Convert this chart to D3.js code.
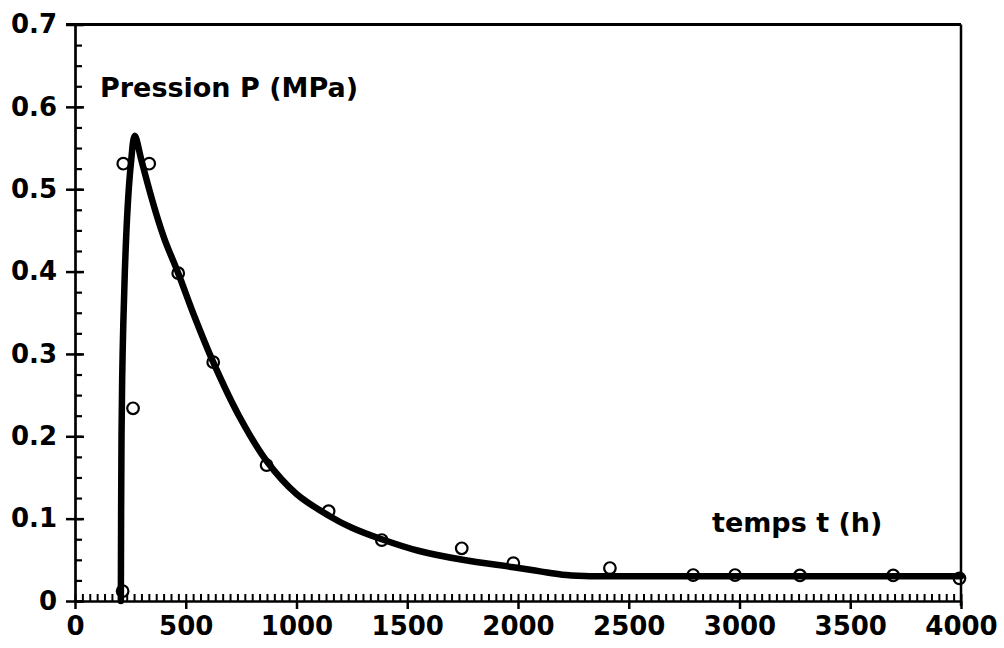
<!DOCTYPE html>
<html>
<head>
<meta charset="utf-8">
<script src="https://cdn.jsdelivr.net/npm/d3@7"></script>
<style>
  body { margin: 0; background: #fff; }
  svg { display: block; }
</style>
</head>
<body>
<svg id="chart" width="1004" height="648"></svg>
<script>
// Pression vs temps : fitted curve + measured points
const curveTime = [207, 210, 215, 225, 238, 252, 270, 300, 340, 376, 406, 466, 540, 624, 740, 865, 1000, 1150, 1250, 1385, 1550, 1750, 1980, 2100, 2200, 2300, 2500, 3000, 3500, 4000];
const curvePressure = [0, 0.2, 0.3, 0.4, 0.48, 0.53, 0.565, 0.535, 0.495, 0.462, 0.438, 0.398, 0.345, 0.29, 0.225, 0.17, 0.13, 0.103, 0.089, 0.075, 0.061, 0.05, 0.041, 0.036, 0.032, 0.0305, 0.03, 0.03, 0.03, 0.03];

const pointTime = [215, 218, 262, 335, 466, 624, 865, 1145, 1385, 1746, 1979, 2415, 2791, 2980, 3273, 3694, 3993];
const pointPressure = [0.012, 0.531, 0.234, 0.531, 0.398, 0.29, 0.165, 0.109, 0.074, 0.064, 0.046, 0.040, 0.0315, 0.0315, 0.031, 0.031, 0.0275];

const xTickValues = [0, 500, 1000, 1500, 2000, 2500, 3000, 3500, 4000];
const yTickValues = [0, 0.1, 0.2, 0.3, 0.4, 0.5, 0.6, 0.7];
const yTickLabels = ["0", "0.1", "0.2", "0.3", "0.4", "0.5", "0.6", "0.7"];

const xLabel = "temps t (h)";
const yLabel = "Pression P (MPa)";

(function () {
  const svg = d3.select("#chart");
  const mLeft = 75, mRight = 961, mTop = 24.5, mBottom = 601;

  const x = d3.scaleLinear().domain([0, 4000]).range([mLeft, mRight]);
  const y = d3.scaleLinear().domain([0, 0.7]).range([mBottom, mTop]);

  const font = "'DejaVu Sans', sans-serif";

  // frame: top and right borders
  svg.append("line")
    .attr("x1", 66).attr("x2", mRight).attr("y1", mTop).attr("y2", mTop)
    .attr("stroke", "#000").attr("stroke-width", 3);
  svg.append("line")
    .attr("x1", mRight).attr("x2", mRight).attr("y1", mTop).attr("y2", mBottom + 5)
    .attr("stroke", "#000").attr("stroke-width", 2.5);

  // x minor ticks (inside) every 500/15 h
  const xMinor = d3.range(0, 4000 + 1e-6, 500 / 15);
  svg.append("g")
    .attr("transform", `translate(0,${mBottom})`)
    .call(d3.axisTop(x).tickValues(xMinor).tickSize(7).tickFormat(""))
    .call(g => g.select(".domain").remove())
    .call(g => g.selectAll("line").attr("stroke-width", 2));

  // x major ticks + labels
  svg.append("g")
    .attr("transform", `translate(0,${mBottom})`)
    .call(d3.axisBottom(x).tickValues(xTickValues).tickSize(8).tickPadding(8).tickSizeOuter(0)
      .tickFormat(d3.format("d")))
    .call(g => g.select(".domain").attr("stroke-width", 2.7))
    .call(g => g.selectAll("line").attr("stroke-width", 2.5))
    .call(g => g.selectAll("text")
      .attr("font-family", font).attr("font-weight", "bold")
      .attr("font-size", 26).attr("fill", "#000"));

  // y minor ticks (inside) every 0.025
  const yMinor = d3.range(0, 0.7 + 1e-6, 0.025);
  svg.append("g")
    .attr("transform", `translate(${mLeft},0)`)
    .call(d3.axisRight(y).tickValues(yMinor).tickSize(7).tickFormat(""))
    .call(g => g.select(".domain").remove())
    .call(g => g.selectAll("line").attr("stroke-width", 2.2));

  // y major ticks + labels
  svg.append("g")
    .attr("transform", `translate(${mLeft},0)`)
    .call(d3.axisLeft(y).tickValues(yTickValues).tickSize(9).tickPadding(9).tickSizeOuter(0)
      .tickFormat((d, i) => yTickLabels[i]))
    .call(g => g.select(".domain").attr("stroke-width", 2.7))
    .call(g => g.selectAll("line").attr("stroke-width", 2.5).attr("x2", 9).attr("x1", -9))
    .call(g => g.selectAll("text")
      .attr("font-family", font).attr("font-weight", "bold")
      .attr("font-size", 26).attr("fill", "#000"));

  // fitted curve
  const line = d3.line()
    .x((d, i) => x(curveTime[i]))
    .y((d, i) => y(curvePressure[i]))
    .curve(d3.curveCatmullRom.alpha(0.5));

  svg.append("path")
    .attr("d", line(curveTime))
    .attr("fill", "none")
    .attr("stroke", "#000")
    .attr("stroke-width", 6.5)
    .attr("stroke-linejoin", "round")
    .attr("stroke-linecap", "round");

  // measured points
  svg.append("g")
    .selectAll("circle")
    .data(pointTime)
    .join("circle")
    .attr("cx", (d, i) => x(pointTime[i]))
    .attr("cy", (d, i) => y(pointPressure[i]))
    .attr("r", 5.8)
    .attr("fill", "none")
    .attr("stroke", "#000")
    .attr("stroke-width", 2.2);

  // labels
  svg.append("text")
    .attr("x", 100).attr("y", 97)
    .attr("font-family", font).attr("font-weight", "bold")
    .attr("font-size", 27)
    .text(yLabel);

  svg.append("text")
    .attr("x", 712).attr("y", 532)
    .attr("font-family", font).attr("font-weight", "bold")
    .attr("font-size", 27)
    .text(xLabel);
})();
</script>
</body>
</html>
